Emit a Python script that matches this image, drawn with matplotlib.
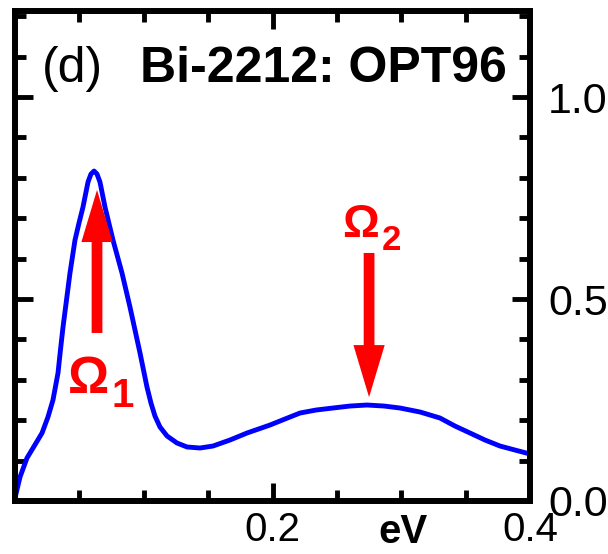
import matplotlib
matplotlib.use("Agg")
import matplotlib.pyplot as plt
from matplotlib.ticker import MultipleLocator, FixedLocator

plt.rcParams['font.family'] = ['Liberation Sans', 'DejaVu Sans']

# Curve (energy in eV, intensity)
energy = [0.0, 0.0039, 0.0093, 0.0140, 0.0210, 0.0256, 0.0295, 0.0334, 0.0353,
          0.0373, 0.0400, 0.0427, 0.0466, 0.0497, 0.0528, 0.0567, 0.0590,
          0.0614, 0.0637, 0.0660, 0.0699, 0.0761, 0.0831, 0.0893, 0.0971,
          0.1025, 0.1056, 0.1087, 0.1126, 0.1181, 0.1258, 0.1336, 0.1437,
          0.1538, 0.1670, 0.1802, 0.1981, 0.2097, 0.2214, 0.2338, 0.2470,
          0.2602, 0.2734, 0.2866, 0.2990, 0.3146, 0.3301, 0.3417, 0.3534,
          0.3650, 0.3767, 0.3883, 0.4000]
intensity = [0.0074, 0.0594, 0.1064, 0.1312, 0.1683, 0.2079, 0.2500, 0.3168,
             0.3738, 0.4307, 0.4975, 0.5644, 0.6460, 0.6881, 0.7277, 0.7896,
             0.8094, 0.8168, 0.8094, 0.7896, 0.7277, 0.6460, 0.5644, 0.4802,
             0.3663, 0.2822, 0.2426, 0.2104, 0.1832, 0.1609, 0.1436, 0.1337,
             0.1312, 0.1361, 0.1510, 0.1683, 0.1881, 0.2030, 0.2178, 0.2252,
             0.2302, 0.2351, 0.2376, 0.2351, 0.2302, 0.2203, 0.2054, 0.1856,
             0.1683, 0.1510, 0.1361, 0.1262, 0.1163]

x_tick_values = [0.2, 0.4]
x_tick_labels = ['0.2', '0.4']
y_tick_values = [0.0, 0.5, 1.0]
y_tick_labels = ['0.0', '0.5', '1.0']

omega1_x, omega1_tip, omega1_base = 0.0637, 0.770, 0.416
omega2_x, omega2_tip, omega2_base = 0.275, 0.257, 0.614

fig = plt.figure(figsize=(6.08, 5.54), dpi=100)
ax = fig.add_axes([15/608, 1 - 501/554, 515/608, 490/554])

ax.plot(energy, intensity, color='#0000ff', lw=3.5, solid_joinstyle='round',
        solid_capstyle='round')

ax.set_xlim(0, 0.4)
ax.set_ylim(0, 1.213)

ax.xaxis.set_major_locator(FixedLocator(x_tick_values))
ax.set_xticklabels(x_tick_labels)
ax.xaxis.set_minor_locator(MultipleLocator(0.05))
ax.yaxis.set_major_locator(FixedLocator(y_tick_values))
ax.set_yticklabels(y_tick_labels)
ax.yaxis.set_minor_locator(MultipleLocator(0.1))

for s in ax.spines.values():
    s.set_linewidth(4.3)
    s.set_capstyle('projecting')

ax.tick_params(which='both', direction='in', top=True, bottom=True,
               left=True, right=True, labelleft=False, labelright=True,
               width=3.5, color='black')
ax.tick_params(which='major', length=13)
ax.tick_params(which='minor', length=8)
ax.tick_params(axis='x', which='major', labelsize=29, pad=7)
ax.tick_params(axis='y', which='major', labelsize=31, pad=13)

fig.text(402.5/608, 1 - 543/554, 'eV', fontsize=29, fontweight='bold',
         ha='center', va='baseline')

ax.text(0.021, 1.037, '(d)', fontsize=36, ha='left', va='baseline')
ax.text(0.0971, 1.037, 'Bi-2212: OPT96', fontsize=36, fontweight='bold',
        ha='left', va='baseline')

arrowstyle = 'simple,head_length=0.75,head_width=0.45,tail_width=0.155'
ax.annotate('', xy=(omega1_x, omega1_tip), xytext=(omega1_x, omega1_base),
            arrowprops=dict(arrowstyle=arrowstyle, mutation_scale=50,
                            color='red', lw=0, shrinkA=0, shrinkB=0))
ax.annotate('', xy=(omega2_x, omega2_tip), xytext=(omega2_x, omega2_base),
            arrowprops=dict(arrowstyle=arrowstyle, mutation_scale=50,
                            color='red', lw=0, shrinkA=0, shrinkB=0))

ax.text(0.041, 0.267, 'Ω', fontsize=37, fontweight='bold', color='red',
        ha='left', va='baseline')
ax.text(0.0753, 0.233, '1', fontsize=29, fontweight='bold', color='red',
        ha='left', va='baseline')
ax.text(0.254, 0.653, 'Ω', fontsize=33, fontweight='bold', color='red',
        ha='left', va='baseline')
ax.text(0.285, 0.621, '2', fontsize=25, fontweight='bold', color='red',
        ha='left', va='baseline')

fig.savefig('out.png', dpi=100)
